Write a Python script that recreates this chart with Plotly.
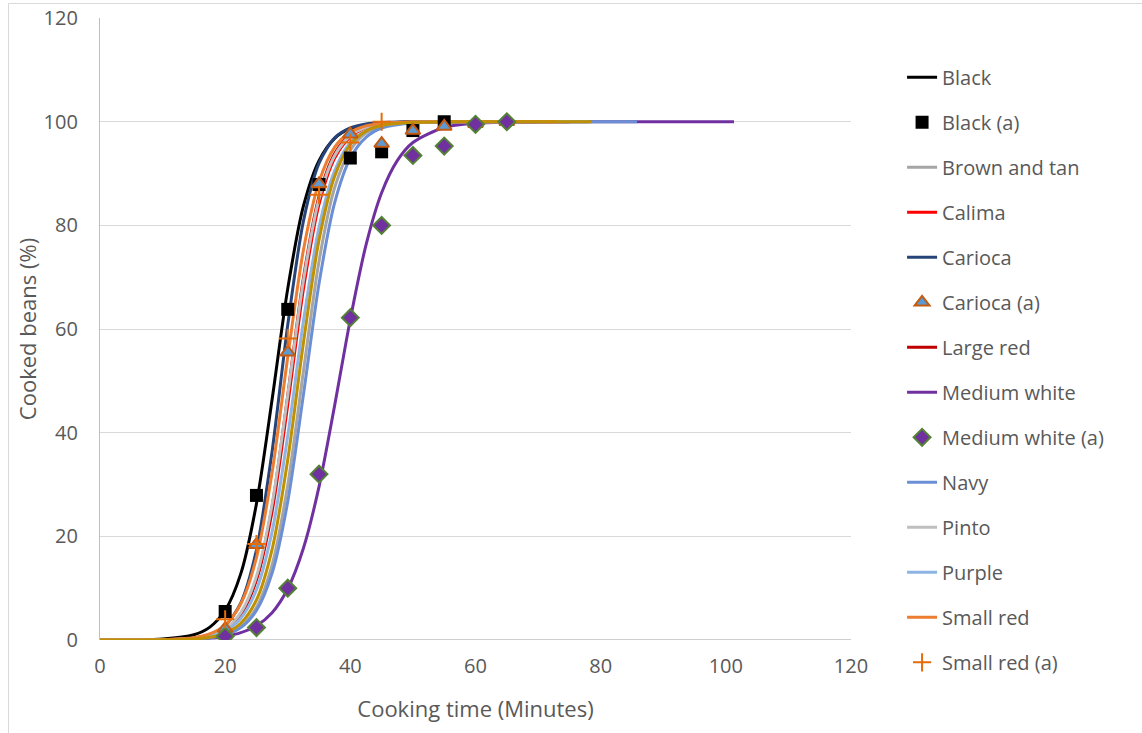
import plotly.graph_objects as go

# ---- data ----
t_std = [0, 5, 10, 15, 17.5, 20, 22.5, 25, 27.5, 30, 32.5, 35, 37.5, 40, 42.5, 45, 50, 55, 60]

black_t = t_std + [70]
black_y = [0.01, 0.03, 0.17, 1.01, 2.44, 5.73, 12.8, 26.3, 46.4, 67.8, 83.7, 92.5, 96.8, 98.7, 99.44, 99.77, 99.96, 100, 100, 100]

brown_t = t_std + [70, 78]
brown_y = [0, 0, 0.03, 0.17, 0.42, 1.05, 2.58, 6.29, 14.5, 29.9, 51.8, 73.1, 87.3, 94.5, 97.8, 99.1, 99.86, 99.98, 100, 100, 100]

calima_t = t_std + [75]
calima_y = [0, 0.01, 0.05, 0.32, 0.81, 2.01, 4.93, 11.6, 24.8, 45.4, 67.7, 84.1, 93.0, 97.1, 98.8, 99.53, 99.93, 99.99, 100, 100]

carioca_t = t_std + [72]
carioca_y = [0, 0.01, 0.05, 0.38, 1.03, 2.76, 7.17, 17.4, 36.4, 60.8, 80.8, 92.0, 96.9, 98.8, 99.57, 99.84, 99.98, 100, 100, 100]

largered_t = t_std + [75]
largered_y = [0, 0.01, 0.04, 0.30, 0.77, 1.96, 4.93, 11.8, 25.7, 47.2, 69.8, 85.6, 93.9, 97.6, 99.0, 99.63, 99.94, 99.99, 100, 100]

medwhite_t = [0, 5, 10, 15, 17.5, 20, 22.5, 25, 27.5, 30, 32.5, 35, 37.5, 40, 42.5, 45, 47.5, 50, 55, 60, 65, 70, 80, 90, 101.3]
medwhite_y = [0, 0.01, 0.05, 0.19, 0.37, 0.73, 1.42, 2.76, 5.27, 9.88, 17.7, 29.6, 45.3, 61.9, 76.2, 86.3, 92.5, 96.0, 98.9, 99.72, 99.93, 99.98, 100, 100, 100]

navy_t = t_std + [70, 85.8]
navy_y = [0, 0, 0.03, 0.16, 0.40, 0.99, 2.39, 5.68, 12.9, 26.7, 47.3, 68.8, 84.4, 93.0, 97.0, 98.8, 99.80, 99.97, 100, 100, 100]

pinto_t = t_std + [75]
pinto_y = [0, 0.01, 0.05, 0.35, 0.87, 2.16, 5.29, 12.3, 26.2, 47.2, 69.3, 85.1, 93.5, 97.3, 98.9, 99.57, 99.93, 99.99, 100, 100]

purple_t = t_std + [78]
purple_y = [0, 0.01, 0.05, 0.29, 0.72, 1.74, 4.19, 9.7, 20.9, 39.4, 61.5, 79.7, 90.6, 96.0, 98.3, 99.31, 99.89, 99.98, 100, 100]

smallred_t = t_std + [73]
smallred_y = [0, 0.01, 0.07, 0.46, 1.17, 2.88, 6.99, 15.9, 32.3, 54.6, 75.2, 88.4, 95.1, 98.0, 99.2, 99.68, 99.95, 100, 100, 100]

gold_t = t_std + [70, 78.5]
gold_y = [0, 0.01, 0.03, 0.21, 0.52, 1.30, 3.23, 7.73, 17.5, 34.8, 57.3, 77.2, 89.5, 95.6, 98.2, 99.27, 99.89, 99.98, 100, 100, 100]

# observed points
black_a_t = [20, 25, 30, 35, 40, 45, 50, 55]
black_a_y = [5.5, 27.9, 63.8, 87.9, 93.0, 94.2, 98.3, 100]

carioca_a_t = [20, 25, 30, 35, 40, 45, 50, 55, 60, 65]
carioca_a_y = [2.2, 18.4, 55.5, 88.0, 97.6, 95.8, 98.3, 99.1, 99.6, 100]

medwhite_a_t = [20, 25, 30, 35, 40, 45, 50, 55, 60, 65]
medwhite_a_y = [0.7, 2.4, 10.0, 32.0, 62.2, 80.0, 93.5, 95.3, 99.5, 100]

smallred_a_t = [20, 25, 30, 35, 40, 45]
smallred_a_y = [4.0, 18.5, 58.2, 85.9, 96.0, 100]

x_ticks = [0, 20, 40, 60, 80, 100, 120]
y_ticks = [0, 20, 40, 60, 80, 100, 120]

FONT = "Open Sans"
fig = go.Figure()

lines = [
    ("Black", black_t, black_y, "#000000", 1),
    ("Brown and tan", brown_t, brown_y, "#A5A5A5", 3),
    ("Calima", calima_t, calima_y, "#FF0000", 4),
    ("Carioca", carioca_t, carioca_y, "#264478", 5),
    ("Large red", largered_t, largered_y, "#C00000", 7),
    ("Medium white", medwhite_t, medwhite_y, "#7030A0", 8),
    ("Navy", navy_t, navy_y, "#6A8FD4", 10),
    ("Pinto", pinto_t, pinto_y, "#BFBFBF", 11),
    ("Purple", purple_t, purple_y, "#8DB4E2", 12),
    ("Small red", smallred_t, smallred_y, "#ED7D31", 13),
]
for name, xs, ys, col, rank in lines:
    fig.add_trace(go.Scatter(x=xs, y=ys, mode="lines", name=name,
                             line=dict(color=col, width=3, shape="spline", smoothing=0.8),
                             legendrank=rank, legendgroup=name))

fig.add_trace(go.Scatter(x=gold_t, y=gold_y, mode="lines", name="Series 15",
                         line=dict(color="#BF9000", width=3, shape="spline", smoothing=0.8),
                         showlegend=False))

fig.add_trace(go.Scatter(x=black_a_t, y=black_a_y, mode="markers", name="Black (a)",
                         marker=dict(symbol="square", size=13, color="#000000"),
                         legendrank=2, legendgroup="Black (a)"))
fig.add_trace(go.Scatter(x=carioca_a_t, y=carioca_a_y, mode="markers", name="Carioca (a)",
                         marker=dict(symbol="triangle-up", size=13, color="#5B9BD5",
                                     line=dict(color="#C55A11", width=2)),
                         legendrank=6, legendgroup="Carioca (a)"))
fig.add_trace(go.Scatter(x=medwhite_a_t, y=medwhite_a_y, mode="markers", name="Medium white (a)",
                         marker=dict(symbol="diamond", size=13, color="#7030A0",
                                     line=dict(color="#548235", width=2)),
                         legendrank=9, legendgroup="Medium white (a)"))
fig.add_trace(go.Scatter(x=smallred_a_t, y=smallred_a_y, mode="markers", name="Small red (a)",
                         marker=dict(symbol="cross-thin", size=13, color="#ED7D31",
                                     line=dict(color="#E46C0A", width=2)),
                         legendrank=14, legendgroup="Small red (a)"))

fig.update_layout(
    width=1142, height=733,
    margin=dict(l=100, r=291, t=18, b=93),
    paper_bgcolor="white", plot_bgcolor="white",
    font=dict(family=FONT, color="#595959", size=20),
    showlegend=True,
    legend=dict(x=1.068, y=0.936, xanchor="left", yanchor="top",
                font=dict(size=20, color="#595959", family=FONT),
                tracegroupgap=16, bgcolor="rgba(0,0,0,0)", maxheight=733),
    xaxis=dict(range=[0, 120], tickvals=x_ticks, ticktext=[str(v) for v in x_ticks],
               showgrid=False, zeroline=False, showline=False, automargin=False,
               ticks="", ticklabelstandoff=12, ticklabeloverflow="allow",
               tickfont=dict(size=20, color="#595959"),
               title=dict(text="Cooking time (Minutes)", font=dict(size=22, color="#595959"), standoff=23)),
    yaxis=dict(range=[0, 120.02], tickvals=y_ticks, ticktext=[str(v) for v in y_ticks],
               showgrid=True, gridcolor="#D9D9D9", gridwidth=1.3, automargin=False,
               zeroline=False, showline=True, linecolor="#BFBFBF", linewidth=1.3,
               ticks="", ticklabelstandoff=17, ticklabeloverflow="allow",
               tickfont=dict(size=20, color="#595959"),
               title=dict(text="Cooked beans (%)", font=dict(size=22, color="#595959"), standoff=0)),
    shapes=[
        dict(type="line", xref="paper", yref="y", x0=0, x1=1, y0=0, y1=0,
             line=dict(color="#BFBFBF", width=1.3), layer="below"),
        dict(type="rect", xref="paper", yref="paper",
             x0=(8.5 - 100) / 751, x1=(1160 - 100) / 751,
             y0=(640 - 760) / 622, y1=(640 - 3.5) / 622,
             line=dict(color="#D9D9D9", width=1), fillcolor="rgba(0,0,0,0)"),
    ],
)

fig.write_html("out.html", config={"displayModeBar": False},
               post_script="document.body.style.margin='0';document.body.style.overflow='hidden';")
